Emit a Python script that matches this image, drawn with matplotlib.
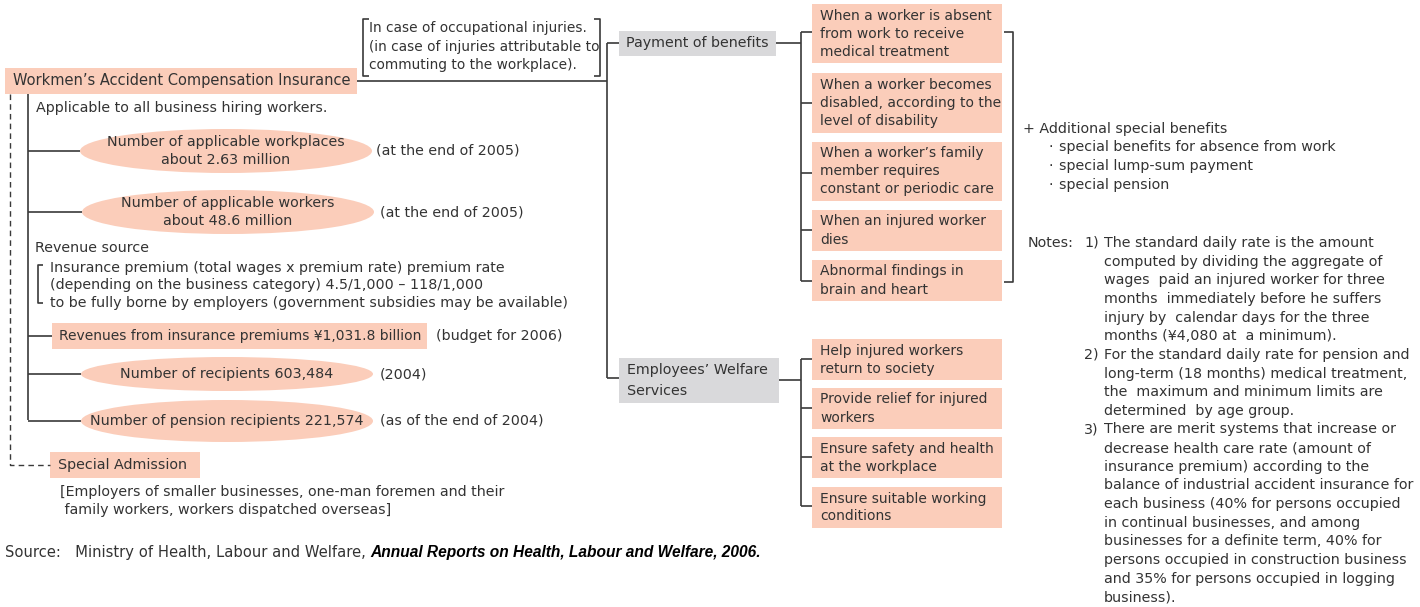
import matplotlib
matplotlib.use("Agg")
import matplotlib.pyplot as plt
from matplotlib.patches import Rectangle, Ellipse

plt.rcParams['font.family'] = ['DejaVu Sans']

# ---- text content ----
title = "Workmen’s Accident Compensation Insurance"
scope_note = "In case of occupational injuries.\n(in case of injuries attributable to\ncommuting to the workplace)."
applicable = "Applicable to all business hiring workers."

ellipse_labels = [
    "Number of applicable workplaces\nabout 2.63 million",
    "Number of applicable workers\nabout 48.6 million",
    "Number of recipients 603,484",
    "Number of pension recipients 221,574",
]
ellipse_notes = ["(at the end of 2005)", "(at the end of 2005)", "(2004)", "(as of the end of 2004)"]

revenue_source = "Revenue source"
premium_lines = [
    "Insurance premium (total wages x premium rate) premium rate",
    "(depending on the business category) 4.5/1,000 – 118/1,000",
    "to be fully borne by employers (government subsidies may be available)",
]
revenue_label = "Revenues from insurance premiums ¥1,031.8 billion"
revenue_note = "(budget for 2006)"

special_label = "Special Admission"
special_note = "[Employers of smaller businesses, one-man foremen and their\n family workers, workers dispatched overseas]"

branches = ["Payment of benefits", "Employees’ Welfare\nServices"]
payment_items = [
    "When a worker is absent\nfrom work to receive\nmedical treatment",
    "When a worker becomes\ndisabled, according to the\nlevel of disability",
    "When a worker’s family\nmember requires\nconstant or periodic care",
    "When an injured worker\ndies",
    "Abnormal findings in\nbrain and heart",
]
welfare_items = [
    "Help injured workers\nreturn to society",
    "Provide relief for injured\nworkers",
    "Ensure safety and health\nat the workplace",
    "Ensure suitable working\nconditions",
]

extra_title = "+ Additional special benefits"
extra_items = ["special benefits for absence from work", "special lump-sum payment", "special pension"]

note_numbers = ["1)", "2)", "3)"]
notes = [
    ["The standard daily rate is the amount",
     "computed by dividing the aggregate of",
     "wages  paid an injured worker for three",
     "months  immediately before he suffers",
     "injury by  calendar days for the three",
     "months (¥4,080 at  a minimum)."],
    ["For the standard daily rate for pension and",
     "long-term (18 months) medical treatment,",
     "the  maximum and minimum limits are",
     "determined  by age group."],
    ["There are merit systems that increase or",
     "decrease health care rate (amount of",
     "insurance premium) according to the",
     "balance of industrial accident insurance for",
     "each business (40% for persons occupied",
     "in continual businesses, and among",
     "businesses for a definite term, 40% for",
     "persons occupied in construction business",
     "and 35% for persons occupied in logging",
     "business)."],
]

source_plain = "Source:   Ministry of Health, Labour and Welfare, "
source_title = "Annual Reports on Health, Labour and Welfare, 2006."

# ---- styles ----
PINK = "#fbcdba"
GRAY = "#d9d9db"
TXT = "#333333"
LINE = "#3a3a3a"
FS = 10.3

fig = plt.figure(figsize=(14.2, 6.07), dpi=100)
ax = fig.add_axes([0, 0, 1, 1])
ax.set_xlim(0, 1420)
ax.set_ylim(607, 0)
ax.axis("off")


def put(x, y, s, step=18.5, ha="left", size=FS, **kw):
    for i, ln in enumerate(s.split("\n")):
        ax.text(x, y + i * step, ln, ha=ha, va="center", fontsize=size, color=TXT, **kw)


def seg(xs, ys, **kw):
    kw.setdefault("lw", 1.2)
    ax.plot(xs, ys, color=LINE, solid_capstyle="butt", **kw)


def box(x, y, w, h, fc):
    ax.add_patch(Rectangle((x, y), w, h, fc=fc, ec="none"))


# top bracketed condition
put(369, 28, scope_note, size=9.9)
seg([369, 363, 363, 369], [19, 19, 76, 76])
seg([594, 600, 600, 594], [19, 19, 76, 76])

# main box
box(5, 68, 352, 26, PINK)
put(13, 81, title, size=10.5)
seg([357, 607], [81, 81])

# left tree
seg([28, 28], [94, 420])
seg([10, 10, 50], [94, 465, 465], lw=1.0, linestyle=(0, (4, 3)))
put(36, 108, applicable)

ell_cx = [226, 228, 227, 227]
ell_cy = [151, 212, 374, 421]
ell_h = [44, 44, 34, 42]
note_x = [376, 380, 380, 380]
for lab, nt, cx, cy, h, nx in zip(ellipse_labels, ellipse_notes, ell_cx, ell_cy, ell_h, note_x):
    ax.add_patch(Ellipse((cx, cy), 292, h, fc=PINK, ec="none"))
    nl = lab.count("\n")
    put(cx, cy - nl * 9, lab, step=18, ha="center")
    put(nx, cy, nt)
    seg([28, cx - 146], [cy, cy])

put(35, 248, revenue_source)
seg([43, 38, 38, 43], [265, 265, 303, 303])
for i, ln in enumerate(premium_lines):
    put(50, 268 + i * 17.5, ln)

box(52, 323, 375, 26, PINK)
put(59, 336, revenue_label, size=10.0)
put(436, 336, revenue_note)
seg([28, 52], [336, 336])

box(50, 452, 150, 26, PINK)
put(58, 465, special_label)
put(60, 492, special_note, step=18)

t1 = ax.text(5, 552, source_plain, ha="left", va="center", fontsize=10.6, color=TXT)
ax.annotate(source_title, xy=(1, 0.5), xycoords=t1, ha="left", va="center",
            fontsize=11.2, color="black", fontweight="bold", fontstyle="italic",
            family="Liberation Sans")

# middle branches
seg([607, 607], [43, 378])
seg([607, 619], [43, 43])
seg([607, 619], [378, 378])
box(619, 31, 157, 25, GRAY)
put(626, 43, branches[0])
box(619, 358, 160, 45, GRAY)
put(627, 370, branches[1], step=21)
seg([776, 801], [43, 43])
seg([779, 801], [380, 380])

# payment items
pay_top = [4, 73, 142, 210, 260]
pay_bot = [63, 133, 201, 251, 301]
pay_tick = [32, 103, 173, 230, 281]
seg([801, 801], [32, 281])
for s, t, b, ty in zip(payment_items, pay_top, pay_bot, pay_tick):
    box(812, t, 190, b - t, PINK)
    nl = s.count("\n")
    put(820, (t + b) / 2 - nl * 9, s, step=18, size=10.0)
    seg([801, 812], [ty, ty])
seg([1004, 1013, 1013, 1004], [32, 32, 282, 282])

# welfare items
wel_top = [339, 388, 437, 487]
wel_bot = [380, 429, 478, 528]
wel_tick = [359, 408, 457, 506]
seg([801, 801], [359, 506])
for s, t, b, ty in zip(welfare_items, wel_top, wel_bot, wel_tick):
    box(812, t, 190, b - t, PINK)
    nl = s.count("\n")
    put(820, (t + b) / 2 - nl * 9, s, step=18, size=10.0)
    seg([801, 812], [ty, ty])

# additional benefits
put(1023, 129, extra_title)
for i, s in enumerate(extra_items):
    put(1048, 147 + i * 19, "·")
    put(1059, 147 + i * 19, s)

# notes
put(1028, 243, "Notes:")
row = 0
for num, lines in zip(note_numbers, notes):
    put(1084, 243 + row * 18.65, num)
    for ln in lines:
        put(1104, 243 + row * 18.65, ln)
        row += 1

fig.savefig("out.png", dpi=100, facecolor="white")
